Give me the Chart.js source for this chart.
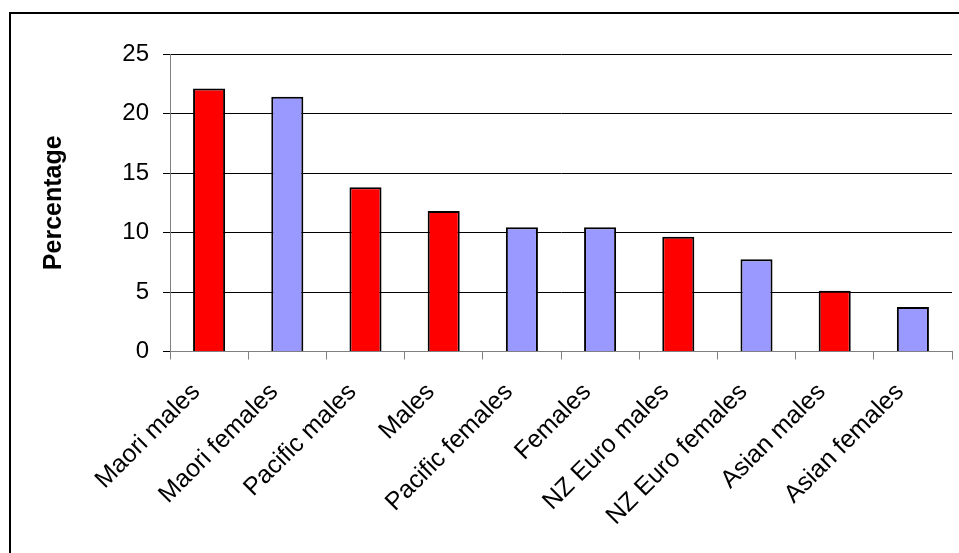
<!DOCTYPE html>
<html>
<head>
<meta charset="utf-8">
<script src="https://cdn.jsdelivr.net/npm/chart.js@4"></script>
<style>
  html, body { margin: 0; padding: 0; background: #fff; overflow: hidden; }
  #wrap { position: relative; width: 959px; height: 553px; }
  #frame { position: absolute; left: 9px; top: 12px; width: 1000px; height: 600px;
           border-left: 2px solid #000; border-top: 2px solid #000; }
  canvas { position: absolute; left: 0; top: 0; }
</style>
</head>
<body>
<div id="wrap">
  <div id="frame"></div>
  <canvas id="chart" width="959" height="553"></canvas>
</div>
<script>
// data
const categories = ["Maori males", "Maori females", "Pacific males", "Males", "Pacific females",
                    "Females", "NZ Euro males", "NZ Euro females", "Asian males", "Asian females"];
const percentages = [22.1, 21.4, 13.8, 11.8, 10.45, 10.45, 9.65, 7.75, 5.1, 3.75];
const isMale = [true, false, true, true, false, false, true, false, true, false];
const yTicks = [0, 5, 10, 15, 20, 25];

const RED = "#ff0000";
const BLUE = "#9999ff";
const FONT = "'Liberation Sans', Arial, sans-serif";

new Chart(document.getElementById("chart"), {
    type: "bar",
    data: {
        labels: categories,
        datasets: [{
            data: percentages,
            backgroundColor: isMale.map(m => m ? RED : BLUE),
            borderColor: "#000",
            borderWidth: 2,
            borderSkipped: "bottom",
            barPercentage: 0.41,
            categoryPercentage: 1
        }]
    },
    options: {
        responsive: false,
        animation: false,
        layout: { padding: { left: 11, top: 54, right: 7, bottom: 0 } },
        plugins: {
            legend: { display: false },
            tooltip: { enabled: false }
        },
        scales: {
            x: {
                grid: {
                    offset: true,
                    drawOnChartArea: false,
                    color: "#808080",
                    tickLength: 8
                },
                border: { color: "#808080", width: 1 },
                ticks: {
                    autoSkip: false,
                    maxRotation: 45,
                    minRotation: 45,
                    padding: 18,
                    labelOffset: -13,
                    color: "#000",
                    font: { family: FONT, size: 25 }
                },
                afterFit: s => { s.height = 201.5; }
            },
            y: {
                min: 0,
                max: 25,
                afterBuildTicks: s => { s.ticks = yTicks.map(v => ({ value: v })); },
                grid: { color: "#000", tickLength: 7 },
                border: { color: "#808080", width: 1 },
                ticks: {
                    padding: 14,
                    color: "#000",
                    font: { family: FONT, size: 24 }
                },
                title: {
                    display: true,
                    text: "Percentage",
                    color: "#000",
                    padding: { top: 28, bottom: 0 },
                    font: { family: FONT, size: 25, weight: "bold" }
                },
                afterFit: s => { s.width = 159; }
            }
        }
    }
});
</script>
</body>
</html>
